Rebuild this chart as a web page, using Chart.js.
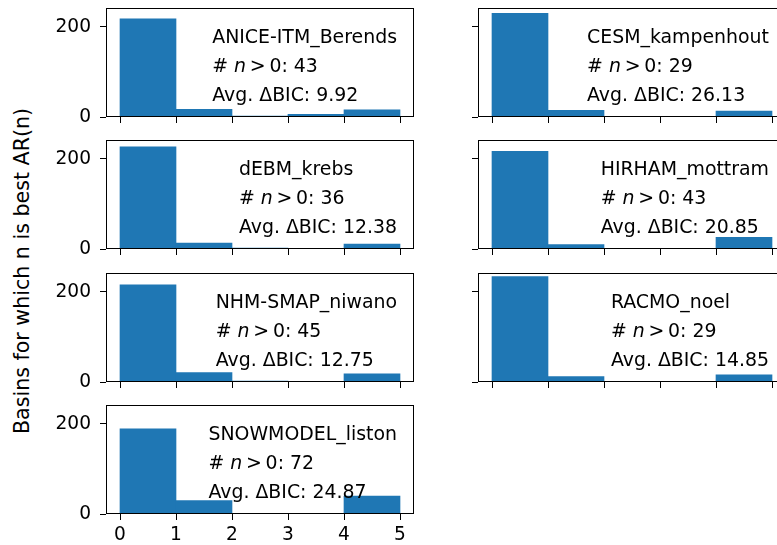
<!DOCTYPE html>
<html>
<head>
<meta charset="utf-8">
<script src="https://cdn.jsdelivr.net/npm/chart.js@4"></script>
<style>
html, body { margin: 0; padding: 0; background: #fff; overflow: hidden; }
body { width: 777px; height: 545px; position: relative; }
.panel { position: absolute; }
#ylabel {
    position: absolute; left: 22px; top: 271px;
    transform: translate(-50%, -50%) rotate(-90deg);
    font: 20.6px "DejaVu Sans"; white-space: nowrap; color: #000;
}
</style>
</head>
<body>
<div id="ylabel">Basins for which n is best AR(n)</div>
<script>
// DATOS (histogramas por modelo, bins 0-1, 1-2, 2-3, 3-4, 4-5)
const modelos = ["ANICE-ITM_Berends", "CESM_kampenhout", "dEBM_krebs", "HIRHAM_mottram",
                 "NHM-SMAP_niwano", "RACMO_noel", "SNOWMODEL_liston"];
const aniceBerends     = [218, 17, 2, 6, 16];
const cesmKampenhout   = [230, 15, 0, 0, 13];
const debmKrebs        = [227, 13, 2, 0, 11];
const hirhamMottram    = [217, 10, 0, 0, 26];
const nhmSmapNiwano    = [216, 21, 2, 0, 18];
const racmoNoel        = [234, 12, 0, 0, 16];
const snowmodelListon  = [189, 30, 0, 0, 40];
const series = [aniceBerends, cesmKampenhout, debmKrebs, hirhamMottram,
                nhmSmapNiwano, racmoNoel, snowmodelListon];
const nMayorCero = [43, 29, 36, 43, 45, 29, 72];
const avgBIC = ["9.92", "26.13", "12.38", "20.85", "12.75", "14.85", "24.87"];
const xTicks = [0, 1, 2, 3, 4, 5];
const yTicks = [0, 200];

// LAYOUT
const colLeft = [106, 477.5];
const rowTop = [8, 140.3, 272.7, 405];
const PLOT_W = 308, PLOT_H = 109;
const Y_AXIS_W = 50, X_AXIS_H = 36, PAD_TOP = 3, PAD_RIGHT = 3;
const FONT = '"DejaVu Sans"';
const FSIZE = 18.6;
const TXT_SIZE = 18.9;

Chart.defaults.color = '#000';
Chart.defaults.font.family = FONT;
Chart.defaults.font.size = FSIZE;

// Marco + texto anotado (tipo AnchoredText arriba a la derecha)
const annotate = {
    id: 'annotate',
    afterDraw(chart, args, opts) {
        const { ctx, chartArea: a } = chart;
        ctx.save();
        ctx.strokeStyle = '#000';
        ctx.lineWidth = 1;
        ctx.strokeRect(Math.round(a.left) + 0.5, Math.round(a.top) + 0.5,
                       Math.round(a.right - a.left) - 1, Math.round(a.bottom - a.top) - 1);

        const normal = TXT_SIZE + 'px ' + FONT, italic = 'italic ' + TXT_SIZE + 'px ' + FONT;
        const line2 = [["# ", normal], ["n", italic], ["\u2009>\u2009", normal], ["0: " + opts.n, normal]];
        const line3 = "Avg. \u0394BIC: " + opts.bic;
        ctx.font = normal;
        const w1 = ctx.measureText(opts.name).width;
        const w3 = ctx.measureText(line3).width;
        let w2 = 0;
        line2.forEach(([t, f]) => { ctx.font = f; w2 += ctx.measureText(t).width; });
        const maxW = Math.max(w1, w2, w3);
        const x0 = a.right - 17 - maxW;

        ctx.fillStyle = '#000';
        ctx.textBaseline = 'alphabetic';
        ctx.textAlign = 'left';
        ctx.font = normal;
        ctx.fillText(opts.name, x0, a.top + 35);
        let x = x0;
        line2.forEach(([t, f]) => {
            ctx.font = f;
            ctx.fillText(t, x, a.top + 64);
            x += ctx.measureText(t).width;
        });
        ctx.font = normal;
        ctx.fillText(line3, x0, a.top + 93);
        ctx.restore();
    }
};

function crearPanel(i) {
    const col = i % 2, row = Math.floor(i / 2);
    const showY = col === 0;
    const showX = i === 6;

    const div = document.createElement('div');
    div.className = 'panel';
    const w = Y_AXIS_W + PLOT_W + PAD_RIGHT, h = PAD_TOP + PLOT_H + X_AXIS_H;
    div.style.left = (colLeft[col] - Y_AXIS_W) + 'px';
    div.style.top = (rowTop[row] - PAD_TOP) + 'px';
    div.style.width = w + 'px';
    div.style.height = h + 'px';
    const canvas = document.createElement('canvas');
    canvas.width = w; canvas.height = h;
    div.appendChild(canvas);
    document.body.appendChild(div);

    const data = series[i].map((v, k) => ({ x: (xTicks[k] + xTicks[k + 1]) / 2, y: v }));

    new Chart(canvas.getContext('2d'), {
        type: 'bar',
        data: {
            datasets: [{
                data: data,
                backgroundColor: '#1f77b4',
                borderWidth: 0,
                barPercentage: 1,
                categoryPercentage: 1
            }]
        },
        options: {
            responsive: false,
            devicePixelRatio: 1,
            animation: false,
            layout: { padding: { top: PAD_TOP, right: PAD_RIGHT, left: 0, bottom: 0 } },
            plugins: {
                legend: { display: false },
                tooltip: { enabled: false },
                annotate: { name: modelos[i], n: nMayorCero[i], bic: avgBIC[i] }
            },
            scales: {
                x: {
                    type: 'linear',
                    offset: false,
                    min: -0.25, max: 5.25,
                    afterBuildTicks: s => { s.ticks = xTicks.map(v => ({ value: v })); },
                    afterFit: s => { s.height = X_AXIS_H; s.paddingLeft = 0; s.paddingRight = 0; },
                    grid: { display: true, offset: false, drawOnChartArea: false, drawTicks: true, tickLength: 6, color: '#000' },
                    border: { display: false },
                    ticks: { display: showX, padding: 4, maxRotation: 0, autoSkip: false }
                },
                y: {
                    min: 0, max: 242,
                    afterBuildTicks: s => { s.ticks = yTicks.map(v => ({ value: v })); },
                    afterFit: s => { s.width = Y_AXIS_W; s.paddingTop = 0; s.paddingBottom = 0; },
                    grid: { display: true, drawOnChartArea: false, drawTicks: true, tickLength: 6, color: '#000' },
                    border: { display: false },
                    ticks: { display: showY, padding: 9, autoSkip: false }
                }
            }
        },
        plugins: [annotate]
    });
}

modelos.forEach((m, i) => crearPanel(i));
</script>
</body>
</html>
